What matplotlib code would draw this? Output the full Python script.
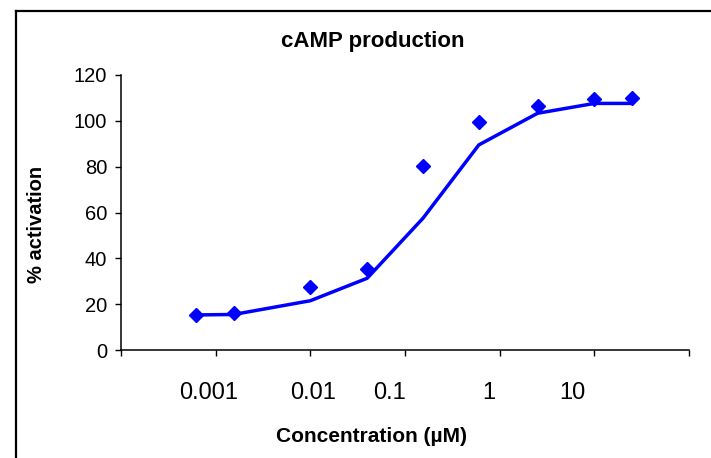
import matplotlib
matplotlib.use("Agg")
import matplotlib.pyplot as plt
from matplotlib.lines import Line2D

plt.rcParams["font.family"] = ["Liberation Sans", "DejaVu Sans"]

# concentration as log10(M)
log_conc = [-9.21, -8.81, -8.0, -7.40, -6.81, -6.22, -5.60, -5.0, -4.60]
activation = [15.3, 16.0, 27.5, 35.3, 80.3, 99.6, 106.6, 109.4, 110.1]
fit_curve = [15.3, 15.5, 21.5, 31.3, 57.5, 89.5, 103.3, 107.6, 107.6]

# hand-placed concentration labels (µM) and where they sit on the axis
conc_labels = ["0.001", "0.01", "0.1", "1", "10"]
conc_label_pos = [-9.07, -7.97, -7.16, -6.11, -5.23]

y_ticks = [0, 20, 40, 60, 80, 100, 120]
x_ticks = [-10, -9, -8, -7, -6, -5, -4]

fig = plt.figure(figsize=(7.11, 4.58), dpi=100)
ax = fig.add_axes([121 / 711, 1 - 350 / 458, 568 / 711, 275 / 458])

# ── chart frame (cropped on the right and bottom) ──
fig.add_artist(Line2D([16 / 711, 16 / 711], [0, 1 - 11 / 458],
                      transform=fig.transFigure, color="black", lw=1.6))
fig.add_artist(Line2D([16 / 711, 1], [1 - 11 / 458, 1 - 11 / 458],
                      transform=fig.transFigure, color="black", lw=1.6))

# ── data ──
ax.plot(log_conc, fit_curve, color="#0000FF", lw=2.5, zorder=2)
ax.plot(log_conc, activation, ls="none", marker="D", ms=7.2,
        color="#0000FF", mec="#0000FF", zorder=3)

ax.set_xlim(-10, -4)
ax.set_ylim(0, 120)
ax.set_xticks(x_ticks)
ax.set_xticklabels([])
ax.set_yticks(y_ticks)
ax.tick_params(axis="y", direction="out", length=4, width=1, pad=6,
               labelsize=14.5)
ax.tick_params(axis="x", direction="out", length=4, width=1)

for s in ["top", "right"]:
    ax.spines[s].set_visible(False)
for s in ["left", "bottom"]:
    ax.spines[s].set_linewidth(1.1)

for lab, pos in zip(conc_labels, conc_label_pos):
    ax.text(pos, -43 / 275, lab, transform=ax.get_xaxis_transform(),
            ha="center", va="center", fontsize=17)

fig.text(373 / 711, 1 - 42 / 458, "cAMP production", ha="center",
         va="center", fontsize=16, fontweight="bold")
fig.text(371 / 711, 1 - 437 / 458, "Concentration (µM)", ha="center",
         va="center", fontsize=15, fontweight="bold")
fig.text(37 / 711, 1 - 224 / 458, "% activation", ha="center",
         va="center", rotation=90, fontsize=14.5, fontweight="bold")

fig.savefig("out.png", dpi=100)
plt.close(fig)
